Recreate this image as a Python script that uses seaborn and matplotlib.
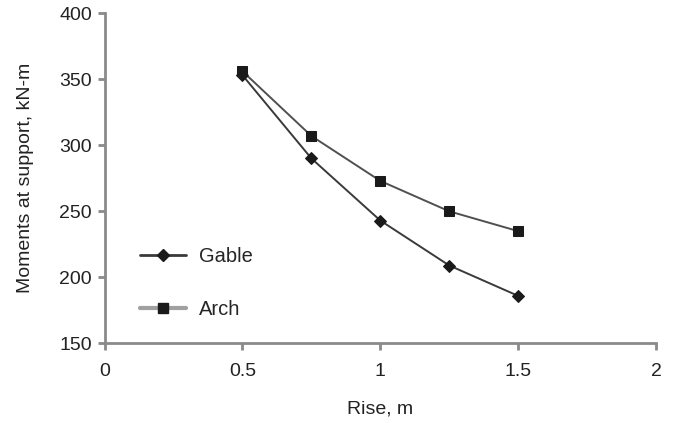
import numpy as np
import pandas as pd
import seaborn as sns
import matplotlib
matplotlib.use("Agg")
import matplotlib.pyplot as plt
from matplotlib.lines import Line2D

# values
rise = [0.5, 0.75, 1.0, 1.25, 1.5]
gable = [353, 290, 243, 209, 186]
arch = [356, 307, 273, 250, 235]
series_names = ["Gable", "Arch"]
x_ticks = [0, 0.5, 1, 1.5, 2]
y_ticks = [150, 200, 250, 300, 350, 400]

sns.set_style("white")
plt.rcParams["font.family"] = ["Liberation Sans", "DejaVu Sans"]

df = pd.DataFrame({
    "rise": rise * 2,
    "moment": gable + arch,
    "type": [series_names[0]] * len(rise) + [series_names[1]] * len(rise),
})

fig = plt.figure(figsize=(6.75, 4.23), dpi=100)
ax = fig.add_axes([0.155, 0.188, 0.817, 0.781])

sns.lineplot(data=df, x="rise", y="moment", hue="type", style="type",
             markers={"Gable": "D", "Arch": "s"}, dashes=False,
             palette={"Gable": "#3a3a3a", "Arch": "#505050"},
             markersize=6.5, linewidth=1.4, markeredgecolor="#1a1a1a",
             ax=ax, legend=False)
for line in ax.lines:
    line.set_markerfacecolor("#1a1a1a")

ax.set_xlim(0, 2)
ax.set_ylim(150, 400)
ax.set_xticks(x_ticks)
ax.set_xticklabels(["0", "0.5", "1", "1.5", "2"])
ax.set_yticks(y_ticks)

for side in ["top", "right"]:
    ax.spines[side].set_visible(False)
for side in ["left", "bottom"]:
    ax.spines[side].set_color("#8a8a8a")
    ax.spines[side].set_linewidth(2)
ax.tick_params(axis="both", direction="out", length=5, width=2,
               bottom=True, left=True,
               color="#8a8a8a", labelsize=14, labelcolor="#222222", pad=4)
ax.tick_params(axis="x", pad=9)

ax.set_xlabel("Rise, m", fontsize=14, color="#222222", labelpad=15)
ax.set_ylabel("Moments at support, kN-m", fontsize=14, color="#222222", labelpad=18)

handles = [
    Line2D([], [], color="#3a3a3a", lw=2, marker="D", markersize=6,
           markerfacecolor="#1a1a1a", markeredgecolor="#1a1a1a"),
    Line2D([], [], color="#a0a0a0", lw=3, marker="s", markersize=6.5,
           markerfacecolor="#1a1a1a", markeredgecolor="#1a1a1a"),
]
ax.legend(handles, series_names, loc="upper left", bbox_to_anchor=(0.064, 0.292),
          borderaxespad=0, borderpad=0,
          frameon=False, fontsize=14.5, handlelength=2.3, labelspacing=1.7,
          handletextpad=0.65)

fig.savefig("out.png", dpi=100)
